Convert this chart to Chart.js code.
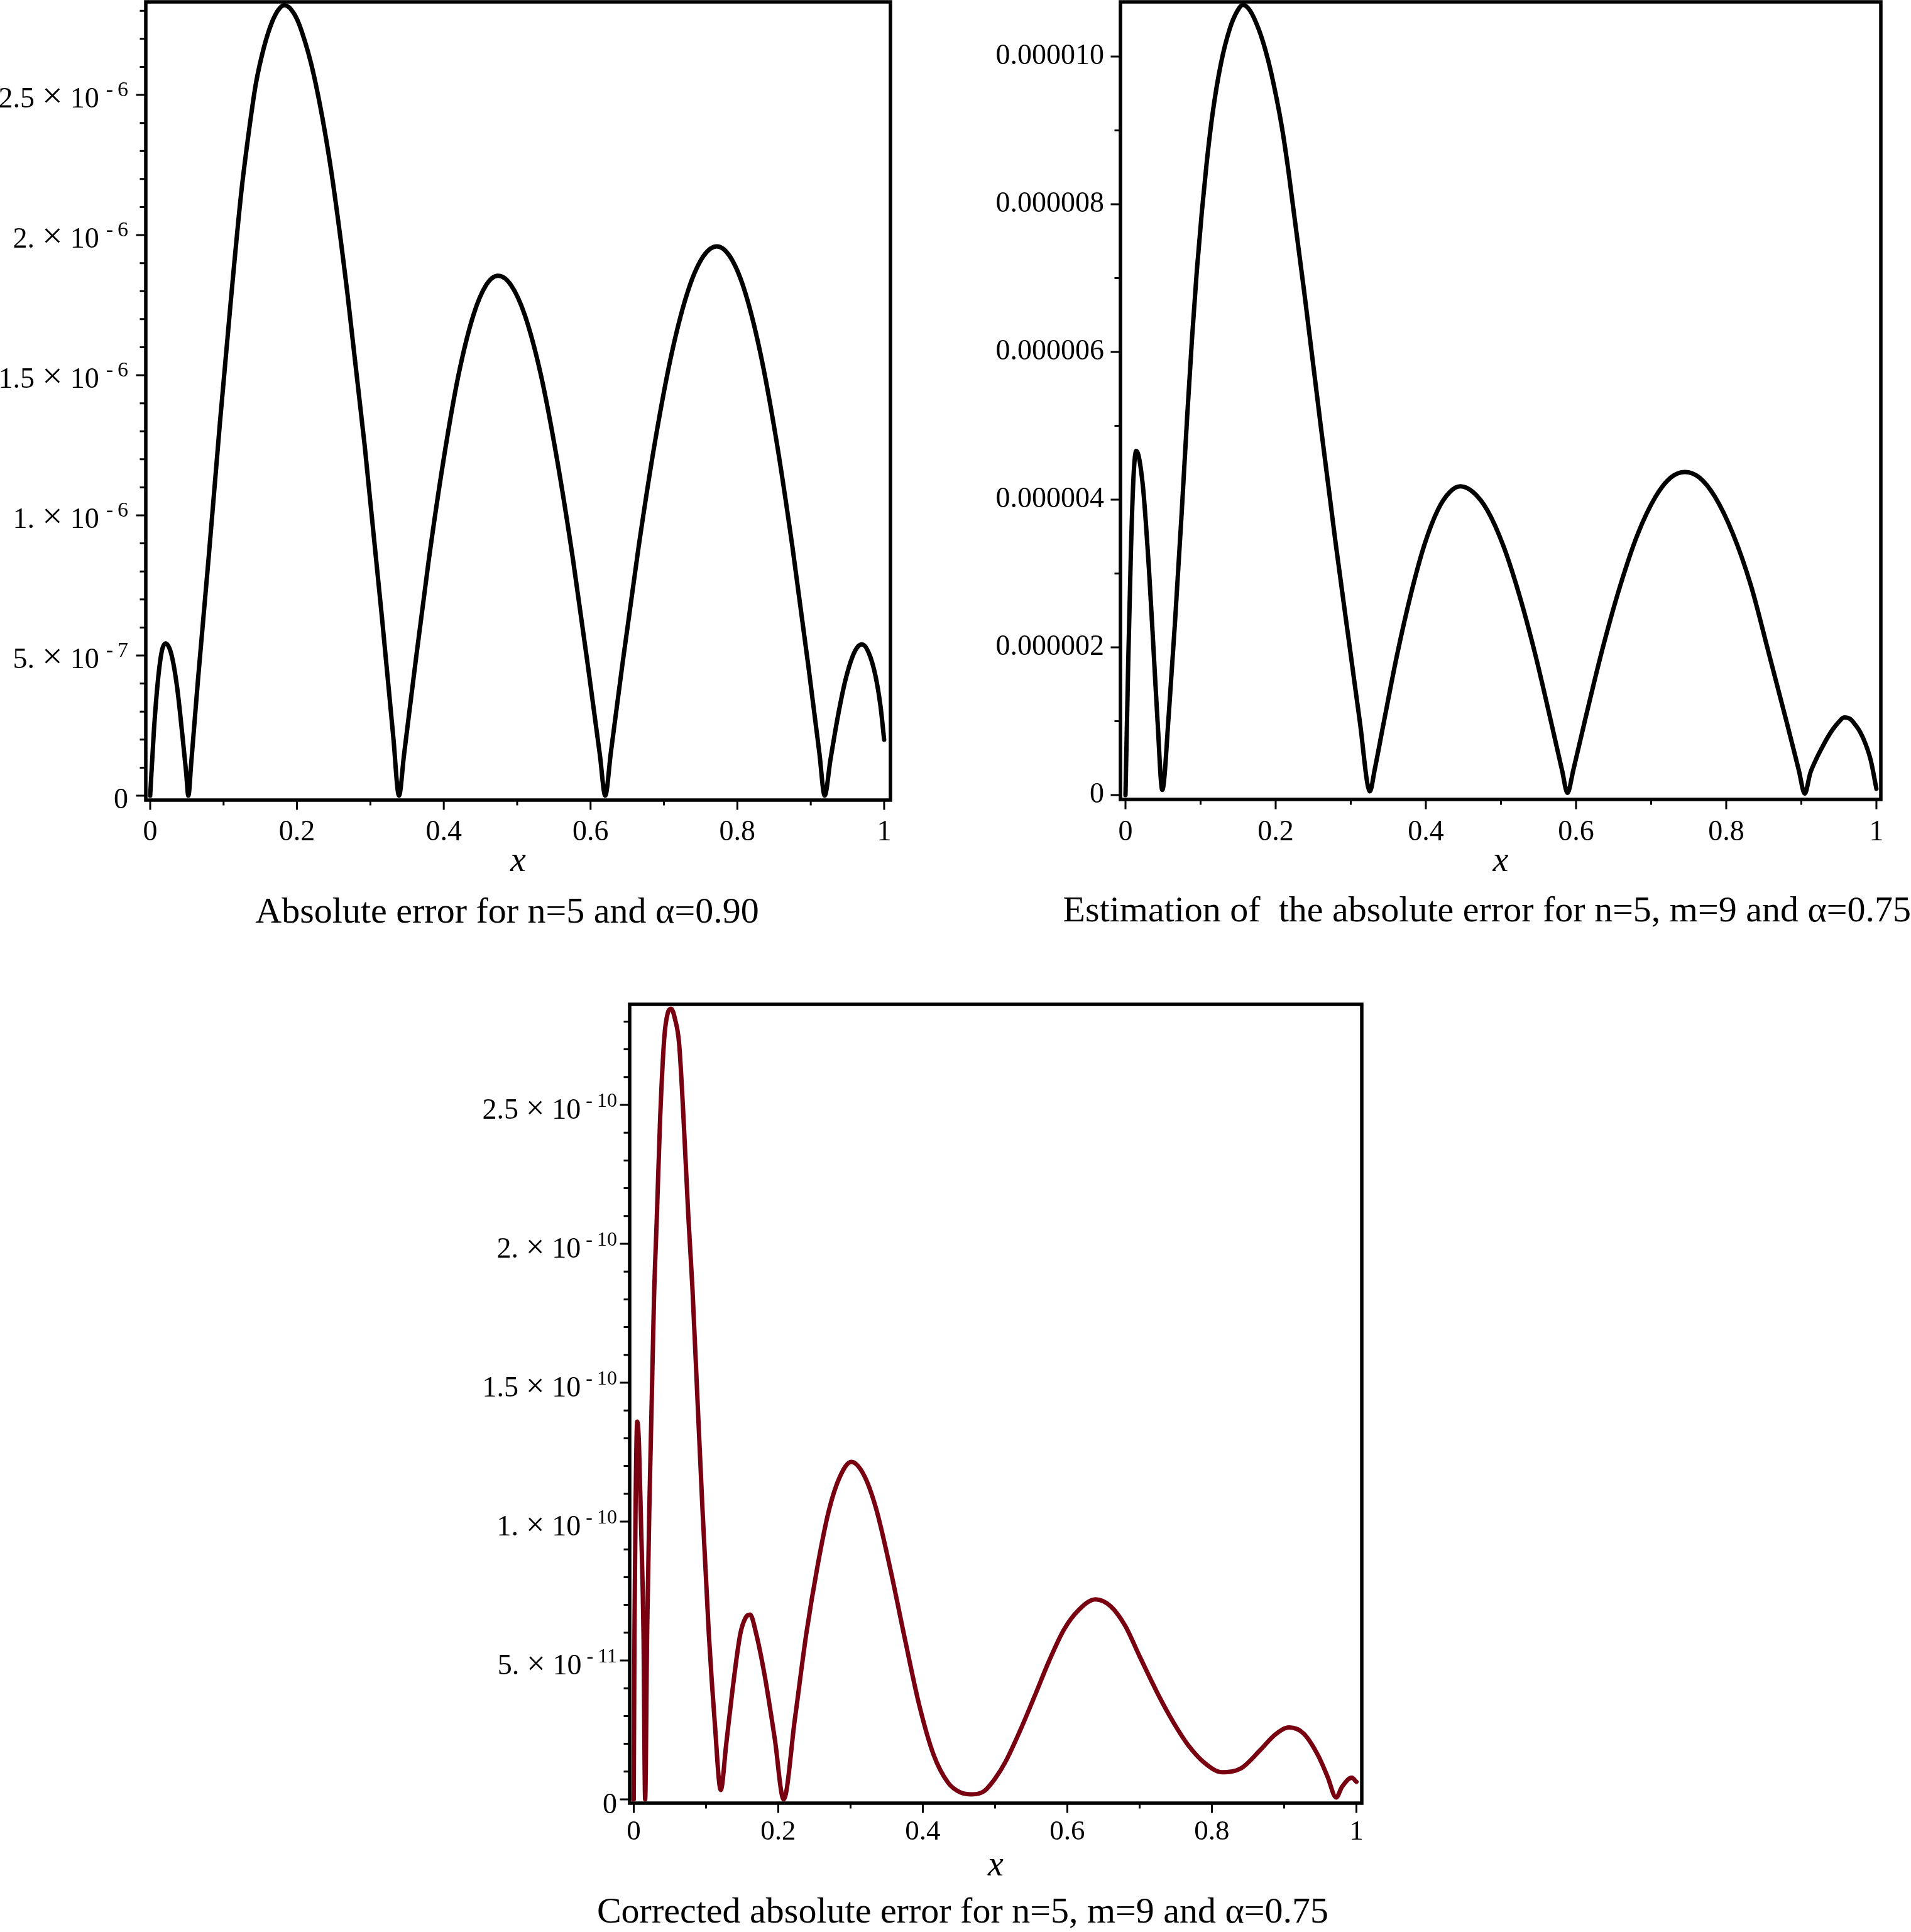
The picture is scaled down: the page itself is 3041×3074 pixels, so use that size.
<!DOCTYPE html>
<html>
<head>
<meta charset="utf-8">
<script src="https://cdn.jsdelivr.net/npm/chart.js@4.4.1/dist/chart.umd.min.js"></script>
<style>
  html, body { margin: 0; padding: 0; background: #fff; }
  body { width: 3041px; height: 3074px; position: relative; overflow: hidden; }
  canvas { position: absolute; }
</style>
</head>
<body>
<canvas id="p1" width="1614" height="1500" style="left:0px;top:0px;width:1614px;height:1500px"></canvas>
<canvas id="p2" width="1521" height="1500" style="left:1520px;top:0px;width:1521px;height:1500px"></canvas>
<canvas id="p3" width="1584" height="1514" style="left:740px;top:1560px;width:1584px;height:1514px"></canvas>
<script>
'use strict';

// x ticks shared by the three plots
var xTickVals = [0, 0.2, 0.4, 0.6, 0.8, 1];
var xTickText = ['0', '0.2', '0.4', '0.6', '0.8', '1'];
var xMinorVals = [0.1, 0.3, 0.5, 0.7, 0.9];

// plot 1 : absolute error n=5, alpha=0.90 (values in units of 1e-6)
var xs1 = [0, 0.005, 0.0105, 0.0158, 0.021, 0.0288, 0.0365, 0.0437, 0.0489, 0.052,
  0.056, 0.065, 0.080, 0.095, 0.110, 0.124, 0.135, 0.144, 0.155, 0.166, 0.175, 0.183,
  0.196, 0.206, 0.223, 0.2454, 0.2688, 0.2922, 0.3156, 0.3312, 0.339,
  0.3458, 0.3593, 0.3795, 0.3998, 0.420, 0.4403, 0.4578, 0.474, 0.4915, 0.5105, 0.5324,
  0.5543, 0.5762, 0.5981, 0.6127, 0.620,
  0.6276, 0.6428, 0.6656, 0.6884, 0.7112, 0.734, 0.7538, 0.772, 0.7896, 0.8088, 0.8308,
  0.8529, 0.8749, 0.897, 0.9117, 0.919,
  0.9267, 0.9369, 0.947, 0.9573, 0.9649, 0.970, 0.979, 0.988, 0.995, 1.0];
var err1 = [0, 0.23, 0.41, 0.515, 0.543, 0.505, 0.39, 0.22, 0.085, 0,
  0.12, 0.41, 0.86, 1.33, 1.77, 2.15, 2.38, 2.54, 2.67, 2.76, 2.805, 2.82,
  2.79, 2.73, 2.57, 2.25, 1.79, 1.25, 0.64, 0.21, 0,
  0.145, 0.43, 0.84, 1.20, 1.50, 1.714, 1.822, 1.855, 1.822, 1.714, 1.50,
  1.20, 0.84, 0.43, 0.145, 0,
  0.153, 0.457, 0.89, 1.272, 1.586, 1.811, 1.925, 1.96, 1.925, 1.811, 1.586,
  1.272, 0.89, 0.457, 0.153, 0,
  0.126, 0.282, 0.41, 0.499, 0.534, 0.54, 0.51, 0.43, 0.32, 0.20];
var yTicks1 = [0, 0.5, 1, 1.5, 2, 2.5];
var yMinor1 = [0.1, 0.2, 0.3, 0.4, 0.6, 0.7, 0.8, 0.9, 1.1, 1.2, 1.3, 1.4, 1.6, 1.7, 1.8, 1.9,
  2.1, 2.2, 2.3, 2.4, 2.6, 2.7, 2.8];
var yMant1 = ['0', '5. \u00d7 10', '1. \u00d7 10', '1.5 \u00d7 10', '2. \u00d7 10', '2.5 \u00d7 10'];
var yExp1 = ['', '-7', '-6', '-6', '-6', '-6'];

// plot 2 : estimation of the absolute error n=5, m=9, alpha=0.75 (units of 1e-6)
var xs2 = [0, 0.0036, 0.0072, 0.0107, 0.0143, 0.023, 0.0316, 0.038, 0.0427, 0.049,
  0.0577, 0.066, 0.075, 0.082, 0.0887, 0.095, 0.1017, 0.108, 0.1163, 0.127, 0.139, 0.148, 0.1565,
  0.166, 0.177, 0.186, 0.194, 0.208, 0.217, 0.24, 0.26, 0.28, 0.30, 0.312, 0.3256,
  0.3316, 0.3437, 0.3617, 0.3798, 0.3978, 0.4159, 0.4316, 0.446, 0.4631, 0.4817, 0.503,
  0.5244, 0.5458, 0.5672, 0.5815, 0.5886,
  0.5964, 0.6121, 0.6355, 0.659, 0.6824, 0.7059, 0.7262, 0.745, 0.7642, 0.7849, 0.8088,
  0.8328, 0.8567, 0.8807, 0.8966, 0.9046,
  0.912, 0.920, 0.928, 0.935, 0.942, 0.950, 0.957, 0.965, 0.972, 0.978, 0.986, 0.9925, 1.0];
var err2 = [0, 1.78, 3.29, 4.31, 4.66, 4.2, 3.0, 1.85, 1.0, 0.07,
  1.1, 2.35, 3.85, 5.1, 6.2, 7.1, 7.9, 8.55, 9.25, 9.9, 10.38, 10.6, 10.70,
  10.62, 10.38, 10.1, 9.78, 9.06, 8.45, 6.65, 5.0, 3.4, 1.9, 1.0, 0.05,
  0.33, 0.97, 1.90, 2.71, 3.38, 3.86, 4.10, 4.18, 4.10, 3.86, 3.38,
  2.71, 1.90, 0.97, 0.33, 0.03,
  0.34, 1.02, 1.99, 2.84, 3.54, 4.04, 4.30, 4.375, 4.30, 4.04, 3.54,
  2.84, 1.92, 0.98, 0.34, 0.02,
  0.30, 0.49, 0.65, 0.78, 0.89, 0.99, 1.05, 1.03, 0.95, 0.86, 0.68, 0.47, 0.085];
var yTicks2 = [0, 2, 4, 6, 8, 10];
var yMinor2 = [1, 3, 5, 7, 9];
var yText2 = ['0', '0.000002', '0.000004', '0.000006', '0.000008', '0.000010'];

// plot 3 : corrected absolute error n=5, m=9, alpha=0.75 (units of 1e-10)
var xs3 = [0, 0.001, 0.0025, 0.0048, 0.0072, 0.010, 0.0135, 0.0158,
  0.0185, 0.022, 0.025, 0.028, 0.032, 0.0365, 0.0422, 0.047, 0.0517, 0.057, 0.0628,
  0.0695, 0.0755, 0.0812, 0.088, 0.095, 0.1039, 0.112, 0.1204,
  0.128, 0.136, 0.1474, 0.155, 0.161, 0.1691, 0.1813, 0.1952, 0.2074,
  0.223, 0.2387, 0.255, 0.27, 0.285, 0.301, 0.318, 0.335, 0.355, 0.375, 0.395, 0.415,
  0.435, 0.452, 0.468, 0.485, 0.5, 0.5143, 0.535, 0.5543, 0.575, 0.595, 0.615, 0.639,
  0.66, 0.68, 0.70, 0.7273, 0.7473, 0.7673, 0.7905, 0.8138, 0.8404, 0.8671, 0.887,
  0.907, 0.927, 0.947, 0.960, 0.972, 0.980, 0.9936, 1.0];
var err3 = [0, 0.6, 1.05, 1.36, 1.28, 1.0, 0.595, 0,
  0.6, 1.1, 1.45, 1.8, 2.1, 2.45, 2.74, 2.83, 2.846, 2.81, 2.72,
  2.42, 2.1, 1.84, 1.45, 1.05, 0.595, 0.28, 0.034,
  0.2, 0.38, 0.595, 0.655, 0.665, 0.6, 0.444, 0.217, 0,
  0.29, 0.595, 0.85, 1.04, 1.16, 1.215, 1.17, 1.05, 0.83, 0.58, 0.34, 0.16,
  0.06, 0.025, 0.018, 0.03, 0.075, 0.135, 0.25, 0.369, 0.50, 0.61, 0.68, 0.72,
  0.695, 0.625, 0.515, 0.369, 0.275, 0.195, 0.13, 0.098, 0.112, 0.178, 0.232,
  0.259, 0.237, 0.158, 0.082, 0.007, 0.045, 0.078, 0.063];
var yTicks3 = [0, 0.5, 1, 1.5, 2, 2.5];
var yMinor3 = [0.1, 0.2, 0.3, 0.4, 0.6, 0.7, 0.8, 0.9, 1.1, 1.2, 1.3, 1.4, 1.6, 1.7, 1.8, 1.9,
  2.1, 2.2, 2.3, 2.4, 2.6, 2.7, 2.8];
var yMant3 = ['0', '5. \u00d7 10', '1. \u00d7 10', '1.5 \u00d7 10', '2. \u00d7 10', '2.5 \u00d7 10'];
var yExp3 = ['', '-11', '-10', '-10', '-10', '-10'];

var FONT = '"Liberation Serif", "Times New Roman", serif';
Chart.defaults.font.family = FONT;
Chart.defaults.color = '#000';

function pts(xs, ys) {
  return xs.map(function (x, i) { return {x: x, y: ys[i]}; });
}

// box, major/minor tick marks and the "a x 10^b" labels in maple style
var mapleFrame = {
  id: 'mapleFrame',
  afterDatasetsDraw: function (chart, args, o) {
    var ctx = chart.ctx, a = chart.chartArea;
    var sx = chart.scales.x, sy = chart.scales.y;
    ctx.save();
    ctx.strokeStyle = '#000';
    ctx.lineWidth = 3;
    ctx.beginPath();
    xTickVals.forEach(function (v) {
      var p = sx.getPixelForValue(v);
      ctx.moveTo(p, a.bottom); ctx.lineTo(p, a.bottom + 15.5);
    });
    xMinorVals.forEach(function (v) {
      var p = sx.getPixelForValue(v);
      ctx.moveTo(p, a.bottom); ctx.lineTo(p, a.bottom + 8.5);
    });
    o.major.forEach(function (v) {
      var p = sy.getPixelForValue(v);
      ctx.moveTo(a.left, p); ctx.lineTo(a.left - 15.5, p);
    });
    o.minor.forEach(function (v) {
      var p = sy.getPixelForValue(v);
      ctx.moveTo(a.left, p); ctx.lineTo(a.left - 9.5, p);
    });
    ctx.stroke();
    ctx.lineWidth = 5.5;
    ctx.strokeRect(a.left, a.top, a.right - a.left, a.bottom - a.top);

    if (o.mant) {
      ctx.fillStyle = '#000';
      ctx.textAlign = 'left';
      ctx.textBaseline = 'alphabetic';
      o.major.forEach(function (v, i) {
        var base = sy.getPixelForValue(v) + o.drop;
        var right = a.left - o.gapLeft;
        var parts = o.mant[i].split(' \u00d7 ');
        var w;
        if (o.exp[i]) {
          // exponent: sign, a small space, then the digits
          ctx.font = o.expSize + 'px ' + FONT;
          var sign = o.exp[i].charAt(0), dig = o.exp[i].slice(1);
          w = ctx.measureText(dig).width;
          ctx.fillText(dig, right - w, base - o.rise);
          right -= w + o.expSpace;
          w = ctx.measureText(sign).width;
          ctx.fillText(sign, right - w, base - o.rise);
          right -= w + o.gapExp;
        }
        ctx.font = o.size + 'px ' + FONT;
        if (parts.length > 1) {
          w = ctx.measureText(parts[1]).width;
          ctx.fillText(parts[1], right - w, base);
          right -= w + o.gapTimes;
          ctx.font = o.timesSize + 'px ' + FONT;
          w = ctx.measureText('\u00d7').width;
          ctx.fillText('\u00d7', right - w, base);
          right -= w + o.gapTimes;
          ctx.font = o.size + 'px ' + FONT;
        }
        ctx.fillText(parts[0], right - ctx.measureText(parts[0]).width, base);
      });
    }
    ctx.restore();
  }
};

function makeChart(id, cfg) {
  var yScale = {
    type: 'linear', position: 'left', min: cfg.ymin, max: cfg.ymax,
    grid: {display: false, drawTicks: false}, border: {display: false},
    afterBuildTicks: function (s) { s.ticks = cfg.yTicks.map(function (v) { return {value: v}; }); },
    afterFit: function (s) { s.width = cfg.yWidth; s.paddingTop = 0; s.paddingBottom = 0; },
    ticks: cfg.yText ? {
      display: true, padding: cfg.yPad, font: {size: 46, lineHeight: 1.2},
      callback: function (v, i) { return cfg.yText[i]; }
    } : {display: false}
  };
  return new Chart(document.getElementById(id), {
    type: 'line',
    data: {
      datasets: [{
        data: pts(cfg.xs, cfg.ys),
        borderColor: cfg.color,
        borderWidth: 7,
        pointRadius: 0,
        fill: false,
        cubicInterpolationMode: 'monotone',
        borderCapStyle: 'round',
        borderJoinStyle: 'round'
      }]
    },
    options: {
      responsive: false,
      animation: false,
      devicePixelRatio: 1,
      layout: {padding: {top: cfg.top, left: 0, right: 0, bottom: 0}},
      plugins: {
        legend: {display: false},
        tooltip: {enabled: false},
        title: {
          display: true, position: 'bottom', align: cfg.titleAlign, text: cfg.title,
          font: {size: 58, weight: 'normal', lineHeight: 1}, color: '#000',
          padding: {top: 0, bottom: cfg.titlePad}
        },
        mapleFrame: cfg.frame
      },
      scales: {
        x: {
          type: 'linear', position: 'bottom', min: cfg.xmin, max: cfg.xmax,
          grid: {display: false, drawTicks: false}, border: {display: false},
          afterBuildTicks: function (s) { s.ticks = xTickVals.map(function (v) { return {value: v}; }); },
          afterFit: function (s) { s.height = cfg.xHeight; s.paddingLeft = 0; s.paddingRight = 0; },
          ticks: {
            padding: cfg.xPad, autoSkip: false, maxRotation: 0,
            font: {size: cfg.xFont, lineHeight: 1.2},
            callback: function (v, i) { return xTickText[i]; }
          },
          title: {
            display: true, text: 'x',
            font: {size: 56, style: 'italic', lineHeight: 1},
            padding: {top: 0, bottom: cfg.xTitlePad}
          }
        },
        y: yScale,
        yr: {
          type: 'linear', position: 'right', display: true,
          grid: {display: false, drawTicks: false}, border: {display: false},
          ticks: {display: false},
          afterFit: function (s) { s.width = cfg.rightWidth; s.paddingTop = 0; s.paddingBottom = 0; }
        }
      }
    },
    plugins: [mapleFrame]
  });
}

makeChart('p1', {
  xs: xs1, ys: err1, color: '#000',
  xmin: -0.006, xmax: 1.0086, ymin: -0.0157, ymax: 2.832,
  yTicks: yTicks1, yWidth: 232, rightWidth: 197, top: 3,
  xHeight: 151, xPad: 24, xFont: 46, xTitlePad: 25,
  title: 'Absolute error for n=5 and \u03b1=0.90', titleAlign: 'center', titlePad: 18,
  frame: {major: yTicks1, minor: yMinor1, mant: yMant1, exp: yExp1,
    size: 46, timesSize: 58, expSize: 34, drop: 20, rise: 18,
    gapLeft: 28, gapExp: 11, expSpace: 7, gapTimes: 12}
});

makeChart('p2', {
  xs: xs2, ys: err2, color: '#000',
  xmin: -0.0067, xmax: 1.0059, ymin: -0.0596, ymax: 10.74,
  yTicks: yTicks2, yText: yText2, yPad: 26, yWidth: 263, rightWidth: 48, top: 3,
  xHeight: 150, xPad: 25, xFont: 46, xTitlePad: 23,
  title: 'Estimation of  the absolute error for n=5, m=9 and \u03b1=0.75', titleAlign: 'end', titlePad: 20,
  frame: {major: yTicks2, minor: yMinor2}
});

makeChart('p3', {
  xs: xs3, ys: err3, color: '#780010',
  xmin: -0.00565, xmax: 1.0074, ymin: -0.01357, ymax: 2.862,
  yTicks: yTicks3, yWidth: 262, rightWidth: 157, top: 38,
  xHeight: 146, xPad: 19, xFont: 45, xTitlePad: 18,
  title: 'Corrected absolute error for n=5, m=9 and \u03b1=0.75', titleAlign: 'center', titlePad: 1,
  frame: {major: yTicks3, minor: yMinor3, mant: yMant3, exp: yExp3,
    size: 46, timesSize: 52, expSize: 32, drop: 22, rise: 19,
    gapLeft: 20, gapExp: 8, expSpace: 7, gapTimes: 12}
});
</script>
</body>
</html>
